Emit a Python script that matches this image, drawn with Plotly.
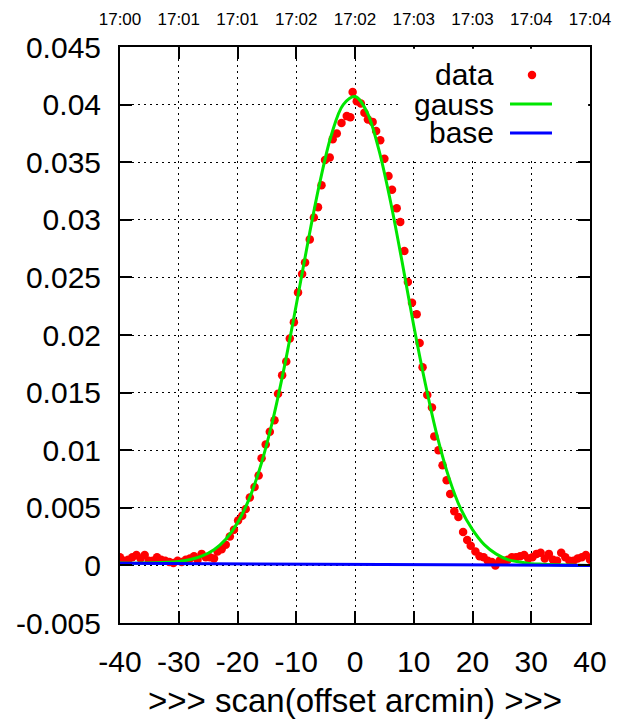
import plotly.graph_objects as go

# ---------------- data ----------------
data_x = [-40.0, -39.3, -38.6, -37.9, -37.2, -36.5, -35.8, -35.1, -34.4, -33.7,
          -33.0, -32.3, -31.6, -30.9, -30.2, -29.5, -28.8, -28.1, -27.4, -26.8,
          -26.1, -25.4, -24.7, -24.0, -23.4, -22.7, -22.0, -21.3, -20.6, -19.9,
          -19.2, -18.6, -17.9, -17.1, -16.4, -15.9, -15.2, -14.5, -13.7, -13.1,
          -12.4, -11.7, -11.1, -10.4, -9.7, -9.0, -8.5, -7.7, -7.0, -6.3,
          -5.7, -5.1, -4.3, -3.8, -3.1, -2.3, -1.4, -0.8, -0.4, 0.3,
          1.0, 1.6, 2.2, 3.0, 3.6, 4.3, 5.0, 5.7, 6.3, 7.1,
          7.7, 8.4, 9.0, 9.7, 10.5, 11.0, 11.5, 12.3, 13.1, 13.5,
          14.2, 14.9, 15.6, 16.2, 16.9, 17.6, 18.4, 19.1, 19.7, 20.5,
          21.2, 21.9, 22.6, 23.3, 23.9, 24.6, 25.3, 26.0, 26.7, 27.4,
          28.1, 28.8, 29.5, 30.2, 30.9, 31.6, 32.3, 33.0, 33.7, 34.4,
          35.1, 35.8, 36.5, 37.2, 37.9, 38.6, 39.3, 40.0]
data_y = [0.0007, 0.0004, 0.0005, 0.0007, 0.0009, 0.0006, 0.0009, 0.0004, 0.0004, 0.0007,
          0.0005, 0.0004, 0.0003, 0.0002, 0.0004, 0.0003, 0.0005, 0.0006, 0.0008, 0.0005,
          0.0010, 0.0007, 0.0007, 0.0006, 0.0012, 0.0014, 0.0018, 0.0025, 0.0031, 0.0039,
          0.0043, 0.0049, 0.0059, 0.0068, 0.0078, 0.0093, 0.0105, 0.0116, 0.0126, 0.0149,
          0.0165, 0.0177, 0.0197, 0.0211, 0.0237, 0.0253, 0.0263, 0.0283, 0.0302, 0.0311,
          0.0330, 0.0352, 0.0354, 0.0370, 0.0375, 0.0384, 0.0390, 0.0389, 0.0411, 0.0403,
          0.0401, 0.0393, 0.0387, 0.0385, 0.0377, 0.0369, 0.0353, 0.0338, 0.0326, 0.0310,
          0.0298, 0.0273, 0.0246, 0.0228, 0.0218, 0.0193, 0.0172, 0.0148, 0.0137, 0.0112,
          0.0100, 0.0087, 0.0074, 0.0062, 0.0047, 0.0042, 0.0029, 0.0022, 0.0017, 0.0012,
          0.0008, 0.0007, 0.0004, 0.0003, 0.0000, 0.0004, 0.0004, 0.0005, 0.0007, 0.0007,
          0.0008, 0.0009, 0.0006, 0.0007, 0.0010, 0.0011, 0.0006, 0.0010, 0.0005, 0.0004,
          0.0011, 0.0007, 0.0004, 0.0004, 0.0006, 0.0007, 0.0009, 0.0005]

gauss_x = [-40, -36, -32, -30, -28, -26, -24, -22, -20, -18, -16, -14, -12, -10, -8,
           -6, -4, -2, 0, 2, 4, 6, 8, 10, 12, 14, 16, 18, 20, 22, 24, 26, 28, 30,
           32, 36, 40]
gauss_y = [0.0002, 0.0002, 0.00027, 0.00035, 0.00051, 0.00082, 0.00136, 0.00227,
           0.00369, 0.0058, 0.00875, 0.0126, 0.0173, 0.0226, 0.0281, 0.0332, 0.0374,
           0.0400, 0.0407, 0.0394, 0.0362, 0.0317, 0.0264, 0.0208, 0.0157, 0.0112,
           0.0076, 0.0049, 0.0031, 0.0018, 0.0010, 0.0005, 0.0003, 0.00015, 0.0001,
           0.00003, 0.0]

base_x = [-40, 40]
base_y = [0.00018, 0.0]

x_ticks = [-40, -30, -20, -10, 0, 10, 20, 30, 40]
x_tick_labels = ["-40", "-30", "-20", "-10", "0", "10", "20", "30", "40"]
y_ticks = [-0.005, 0, 0.005, 0.01, 0.015, 0.02, 0.025, 0.03, 0.035, 0.04, 0.045]
y_tick_labels = ["-0.005", "0", "0.005", "0.01", "0.015", "0.02", "0.025",
                 "0.03", "0.035", "0.04", "0.045"]
time_labels = ["17:00", "17:01", "17:01", "17:02", "17:02", "17:03", "17:03",
               "17:04", "17:04"]
legend_names = ["data", "gauss", "base"]

FONT = "Liberation Sans, Arial, sans-serif"

fig = go.Figure()
fig.add_trace(go.Scatter(x=data_x, y=data_y, mode="markers", name=legend_names[0],
                         marker=dict(color="#ff0000", size=8.5), showlegend=False))
fig.add_trace(go.Scatter(x=gauss_x, y=gauss_y, mode="lines", name=legend_names[1],
                         line=dict(color="#00e600", width=3, shape="spline"),
                         showlegend=False))
fig.add_trace(go.Scatter(x=base_x, y=base_y, mode="lines", name=legend_names[2],
                         line=dict(color="#0000ff", width=3), showlegend=False))
# invisible trace to activate the top axis with time labels
fig.add_trace(go.Scatter(x=x_ticks, y=[None] * len(x_ticks), xaxis="x2",
                         mode="markers", showlegend=False, hoverinfo="skip"))

axis_common = dict(showline=True, linecolor="black", linewidth=2, mirror="ticks",
                   ticks="inside", ticklen=12, tickwidth=1.5, tickcolor="black",
                   showgrid=True, gridcolor="black", gridwidth=1,
                   griddash="2px,4px", zeroline=False, automargin=False)

fig.update_layout(
    width=624, height=721,
    margin=dict(l=120, r=34, t=47, b=98),
    paper_bgcolor="white", plot_bgcolor="white",
    font=dict(family=FONT, color="black"),
    xaxis=dict(range=[-40, 40], tickvals=x_ticks, ticktext=x_tick_labels,
               tickfont=dict(size=30), ticklabelstandoff=11,
               title=dict(text=">>> scan(offset arcmin) >>>",
                          font=dict(size=33), standoff=12),
               **axis_common),
    xaxis2=dict(range=[-40, 40], overlaying="x", side="top",
                tickvals=x_ticks, ticktext=time_labels, tickfont=dict(size=17),
                showgrid=False, showline=False, zeroline=False, ticks="",
                ticklabelstandoff=18, automargin=False),
    yaxis=dict(range=[-0.005, 0.045], tickvals=y_ticks, ticktext=y_tick_labels,
               tickfont=dict(size=30), ticklabelstandoff=11, **axis_common),
)

# legend box (gnuplot style: text then sample)
fig.add_shape(type="rect", xref="paper", yref="paper", x0=0.6, x1=0.996,
              y0=0.808, y1=0.997, fillcolor="white", line=dict(width=0),
              layer="above")
rows_y = [0.9514, 0.901, 0.8507]
for name, yy in zip(legend_names, rows_y):
    fig.add_annotation(x=0.80, y=yy, xref="paper", yref="paper", text=name,
                       showarrow=False, xanchor="right", yanchor="middle",
                       font=dict(size=30, family=FONT))
fig.add_shape(type="circle", xref="paper", yref="paper",
              x0=0.8766 - 0.009, x1=0.8766 + 0.009,
              y0=rows_y[0] - 0.0073, y1=rows_y[0] + 0.0073,
              fillcolor="#ff0000", line=dict(width=0), layer="above")
fig.add_shape(type="line", xref="paper", yref="paper", x0=0.8298, x1=0.9191,
              y0=rows_y[1], y1=rows_y[1], line=dict(color="#00e600", width=3),
              layer="above")
fig.add_shape(type="line", xref="paper", yref="paper", x0=0.8298, x1=0.9191,
              y0=rows_y[2], y1=rows_y[2], line=dict(color="#0000ff", width=3),
              layer="above")

fig.write_html("out.html",
               config={"displayModeBar": False},
               post_script="document.body.style.margin='0';"
                           "document.body.style.overflow='hidden';")
